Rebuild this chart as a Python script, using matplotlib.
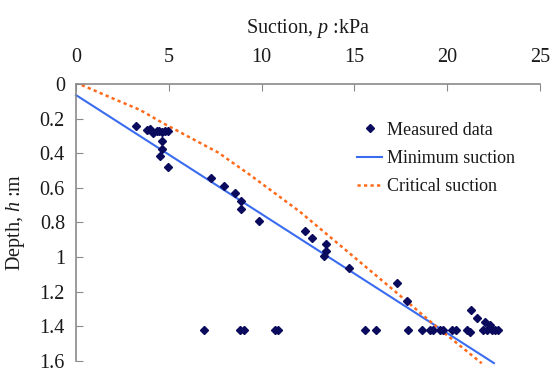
import matplotlib
matplotlib.use("Agg")
import matplotlib.pyplot as plt

plt.rcParams['font.family'] = ['Liberation Serif', 'DejaVu Serif']
plt.rcParams['mathtext.fontset'] = 'custom'
plt.rcParams['mathtext.rm'] = 'Liberation Serif'
plt.rcParams['mathtext.it'] = 'Liberation Serif:italic'

# measured suction (kPa) vs depth (m)
meas_p = [3.23, 3.81, 3.99, 4.16, 4.35, 4.49, 4.62, 4.80, 4.97, 4.62, 4.62, 4.53, 4.94,
          7.26, 7.99, 8.58, 8.89, 8.89, 9.86,
          12.34, 12.73, 13.49, 13.49, 13.35, 14.73, 17.28, 17.82,
          21.27, 21.62, 22.04, 22.31,
          6.90, 8.84, 9.05, 10.72, 10.90, 15.56, 16.16, 17.87, 18.63, 19.07, 19.25,
          19.61, 19.79, 20.24, 20.47, 21.05, 21.23, 21.95, 22.13, 22.40, 22.57, 22.75]
meas_h = [0.243, 0.266, 0.262, 0.285, 0.270, 0.273, 0.276, 0.270, 0.270, 0.328, 0.378, 0.416, 0.478,
          0.542, 0.590, 0.629, 0.678, 0.725, 0.791,
          0.848, 0.891, 0.924, 0.964, 0.993, 1.066, 1.149, 1.253,
          1.307, 1.352, 1.376, 1.394,
          1.421, 1.421, 1.421, 1.421, 1.421, 1.421, 1.421, 1.421, 1.421, 1.421, 1.421,
          1.421, 1.421, 1.421, 1.421, 1.421, 1.433, 1.421, 1.421, 1.421, 1.421, 1.421]

# minimum suction (straight line)
min_p = [0.0, 22.52]
min_h = [0.064, 1.614]

# critical suction curve
crit_p = [0.31, 2.19, 3.45, 4.70, 7.67, 9.38, 12.07, 17.10, 19.43, 21.86]
crit_h = [0.006, 0.093, 0.150, 0.227, 0.397, 0.526, 0.739, 1.191, 1.404, 1.615]

x_ticks = [0, 5, 10, 15, 20, 25]
y_ticks = [0, 0.2, 0.4, 0.6, 0.8, 1.0, 1.2, 1.4, 1.6]
y_labels = ['0', '0.2', '0.4', '0.6', '0.8', '1', '1.2', '1.4', '1.6']

fig = plt.figure(figsize=(5.54, 3.72), dpi=100)
ax = fig.add_axes([0.1372, 0.0304, 0.8375, 0.7438])

ax.plot(meas_p, meas_h, linestyle='none', marker='D', markersize=3.6,
        color='#0b0b5e', label='Measured data', clip_on=False, zorder=3)
ax.plot(min_p, min_h, color='#3a6cf0', linewidth=1.5, label='Minimum suction',
        clip_on=False)
ax.plot(crit_p, crit_h, color='#ff6a1a', linewidth=1.8, linestyle=(0, (1.3, 1.3)),
        label='Critical suction', clip_on=False)

ax.set_xlim(0, 25)
ax.set_ylim(1.6, 0)
ax.set_xticks(x_ticks)
ax.set_yticks(y_ticks)
ax.set_yticklabels(y_labels)
ax.xaxis.tick_top()
ax.xaxis.set_label_position('top')
ax.tick_params(axis='both', direction='in', length=5, color='#8a8a8a',
               labelsize=14.5, labelcolor='#1a1a1a')
ax.tick_params(axis='x', pad=12)
ax.tick_params(axis='y', pad=8)
for s in ['right', 'bottom']:
    ax.spines[s].set_visible(False)
for s in ['left', 'top']:
    ax.spines[s].set_color('#8a8a8a')
    ax.spines[s].set_linewidth(1.2)

ax.set_xlabel('Suction, $p$ :kPa', fontsize=14.5, labelpad=11, color='#1a1a1a')
ax.set_ylabel('Depth, $h$ :m', fontsize=14.5, labelpad=9, color='#1a1a1a')

leg = ax.legend(loc='upper left', bbox_to_anchor=(0.59, 0.89), frameon=False,
                fontsize=13, handlelength=1.4, handletextpad=0.25,
                labelspacing=0.62, borderaxespad=0)
for t in leg.get_texts():
    t.set_color('#1a1a1a')

fig.savefig('out.png', dpi=100)
